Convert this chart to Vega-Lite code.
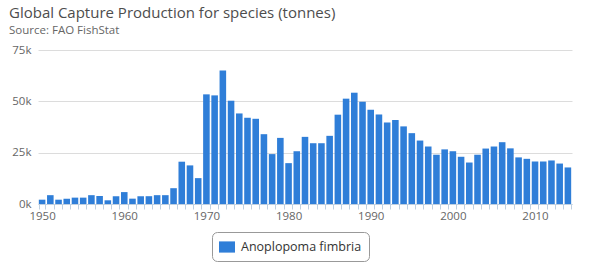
{
  "$schema": "https://vega.github.io/schema/vega-lite/v6.json",
  "width": 534,
  "height": 154,
  "autosize": {"type": "none"},
  "padding": {"left": 38, "top": 50, "right": 19, "bottom": 64},
  "background": "#ffffff",
  "config": {
    "font": "Open Sans",
    "view": {"stroke": null}
  },
  "title": {
    "text": "Global Capture Production for species (tonnes)",
    "subtitle": "Source: FAO FishStat",
    "anchor": "start",
    "frame": "group",
    "dx": -29,
    "offset": 8,
    "fontSize": 15,
    "fontWeight": "normal",
    "color": "#4d4d4d",
    "subtitleFontSize": 11.5,
    "subtitleColor": "#666666",
    "subtitlePadding": 4
  },
  "data": {
    "values": [
      {"year": 1950, "tonnes": 2100, "species": "Anoplopoma fimbria"},
      {"year": 1951, "tonnes": 4300, "species": "Anoplopoma fimbria"},
      {"year": 1952, "tonnes": 2100, "species": "Anoplopoma fimbria"},
      {"year": 1953, "tonnes": 2600, "species": "Anoplopoma fimbria"},
      {"year": 1954, "tonnes": 3100, "species": "Anoplopoma fimbria"},
      {"year": 1955, "tonnes": 3100, "species": "Anoplopoma fimbria"},
      {"year": 1956, "tonnes": 4300, "species": "Anoplopoma fimbria"},
      {"year": 1957, "tonnes": 3900, "species": "Anoplopoma fimbria"},
      {"year": 1958, "tonnes": 1800, "species": "Anoplopoma fimbria"},
      {"year": 1959, "tonnes": 3800, "species": "Anoplopoma fimbria"},
      {"year": 1960, "tonnes": 5800, "species": "Anoplopoma fimbria"},
      {"year": 1961, "tonnes": 2600, "species": "Anoplopoma fimbria"},
      {"year": 1962, "tonnes": 3800, "species": "Anoplopoma fimbria"},
      {"year": 1963, "tonnes": 3800, "species": "Anoplopoma fimbria"},
      {"year": 1964, "tonnes": 4300, "species": "Anoplopoma fimbria"},
      {"year": 1965, "tonnes": 4300, "species": "Anoplopoma fimbria"},
      {"year": 1966, "tonnes": 7700, "species": "Anoplopoma fimbria"},
      {"year": 1967, "tonnes": 20600, "species": "Anoplopoma fimbria"},
      {"year": 1968, "tonnes": 18800, "species": "Anoplopoma fimbria"},
      {"year": 1969, "tonnes": 12600, "species": "Anoplopoma fimbria"},
      {"year": 1970, "tonnes": 53400, "species": "Anoplopoma fimbria"},
      {"year": 1971, "tonnes": 52900, "species": "Anoplopoma fimbria"},
      {"year": 1972, "tonnes": 65000, "species": "Anoplopoma fimbria"},
      {"year": 1973, "tonnes": 50300, "species": "Anoplopoma fimbria"},
      {"year": 1974, "tonnes": 44100, "species": "Anoplopoma fimbria"},
      {"year": 1975, "tonnes": 42000, "species": "Anoplopoma fimbria"},
      {"year": 1976, "tonnes": 41500, "species": "Anoplopoma fimbria"},
      {"year": 1977, "tonnes": 34000, "species": "Anoplopoma fimbria"},
      {"year": 1978, "tonnes": 24300, "species": "Anoplopoma fimbria"},
      {"year": 1979, "tonnes": 32200, "species": "Anoplopoma fimbria"},
      {"year": 1980, "tonnes": 19900, "species": "Anoplopoma fimbria"},
      {"year": 1981, "tonnes": 25700, "species": "Anoplopoma fimbria"},
      {"year": 1982, "tonnes": 32700, "species": "Anoplopoma fimbria"},
      {"year": 1983, "tonnes": 29600, "species": "Anoplopoma fimbria"},
      {"year": 1984, "tonnes": 29600, "species": "Anoplopoma fimbria"},
      {"year": 1985, "tonnes": 33200, "species": "Anoplopoma fimbria"},
      {"year": 1986, "tonnes": 43500, "species": "Anoplopoma fimbria"},
      {"year": 1987, "tonnes": 51300, "species": "Anoplopoma fimbria"},
      {"year": 1988, "tonnes": 54200, "species": "Anoplopoma fimbria"},
      {"year": 1989, "tonnes": 49800, "species": "Anoplopoma fimbria"},
      {"year": 1990, "tonnes": 45900, "species": "Anoplopoma fimbria"},
      {"year": 1991, "tonnes": 43600, "species": "Anoplopoma fimbria"},
      {"year": 1992, "tonnes": 39700, "species": "Anoplopoma fimbria"},
      {"year": 1993, "tonnes": 40900, "species": "Anoplopoma fimbria"},
      {"year": 1994, "tonnes": 37800, "species": "Anoplopoma fimbria"},
      {"year": 1995, "tonnes": 34500, "species": "Anoplopoma fimbria"},
      {"year": 1996, "tonnes": 30900, "species": "Anoplopoma fimbria"},
      {"year": 1997, "tonnes": 28000, "species": "Anoplopoma fimbria"},
      {"year": 1998, "tonnes": 24000, "species": "Anoplopoma fimbria"},
      {"year": 1999, "tonnes": 26600, "species": "Anoplopoma fimbria"},
      {"year": 2000, "tonnes": 25700, "species": "Anoplopoma fimbria"},
      {"year": 2001, "tonnes": 23000, "species": "Anoplopoma fimbria"},
      {"year": 2002, "tonnes": 20200, "species": "Anoplopoma fimbria"},
      {"year": 2003, "tonnes": 24000, "species": "Anoplopoma fimbria"},
      {"year": 2004, "tonnes": 27000, "species": "Anoplopoma fimbria"},
      {"year": 2005, "tonnes": 28000, "species": "Anoplopoma fimbria"},
      {"year": 2006, "tonnes": 30100, "species": "Anoplopoma fimbria"},
      {"year": 2007, "tonnes": 27100, "species": "Anoplopoma fimbria"},
      {"year": 2008, "tonnes": 22700, "species": "Anoplopoma fimbria"},
      {"year": 2009, "tonnes": 22000, "species": "Anoplopoma fimbria"},
      {"year": 2010, "tonnes": 20700, "species": "Anoplopoma fimbria"},
      {"year": 2011, "tonnes": 20700, "species": "Anoplopoma fimbria"},
      {"year": 2012, "tonnes": 21200, "species": "Anoplopoma fimbria"},
      {"year": 2013, "tonnes": 19700, "species": "Anoplopoma fimbria"},
      {"year": 2014, "tonnes": 17800, "species": "Anoplopoma fimbria"}
    ]
  },
  "mark": {"type": "bar"},
  "encoding": {
    "x": {
      "field": "year",
      "type": "ordinal",
      "scale": {"paddingInner": 0.2, "paddingOuter": 0.1},
      "axis": {
        "title": null,
        "labelAngle": 0,
        "labelExpr": "datum.value % 10 == 0 ? datum.value : ''",
        "labelOverlap": false,
        "labelFontSize": 11.5,
        "labelColor": "#666666",
        "labelPadding": 1,
        "tickBand": "extent",
        "tickSize": 5,
        "tickColor": "#C0D0E0",
        "domainColor": "#C0D0E0",
        "grid": false
      }
    },
    "y": {
      "field": "tonnes",
      "type": "quantitative",
      "scale": {"domain": [0, 75000], "nice": false},
      "axis": {
        "title": null,
        "values": [0, 25000, 50000, 75000],
        "labelExpr": "(datum.value / 1000) + 'k'",
        "labelFontSize": 11.5,
        "labelColor": "#666666",
        "labelPadding": 7,
        "ticks": false,
        "domain": false,
        "gridColor": "#dcdcdc",
        "gridWidth": 1
      }
    },
    "color": {
      "field": "species",
      "type": "nominal",
      "scale": {"range": ["#2f7ed8"]},
      "legend": {
        "title": null,
        "orient": "none",
        "legendX": 174,
        "legendY": 182,
        "padding": 7,
        "strokeColor": "#999999",
        "fillColor": "#ffffff",
        "cornerRadius": 5,
        "labelFontSize": 12.5,
        "labelColor": "#333333",
        "labelOffset": 6,
        "symbolType": "M-1,-0.7L1,-0.7L1,0.7L-1,0.7Z",
        "symbolSize": 256,
        "symbolStrokeWidth": 0
      }
    }
  }
}
